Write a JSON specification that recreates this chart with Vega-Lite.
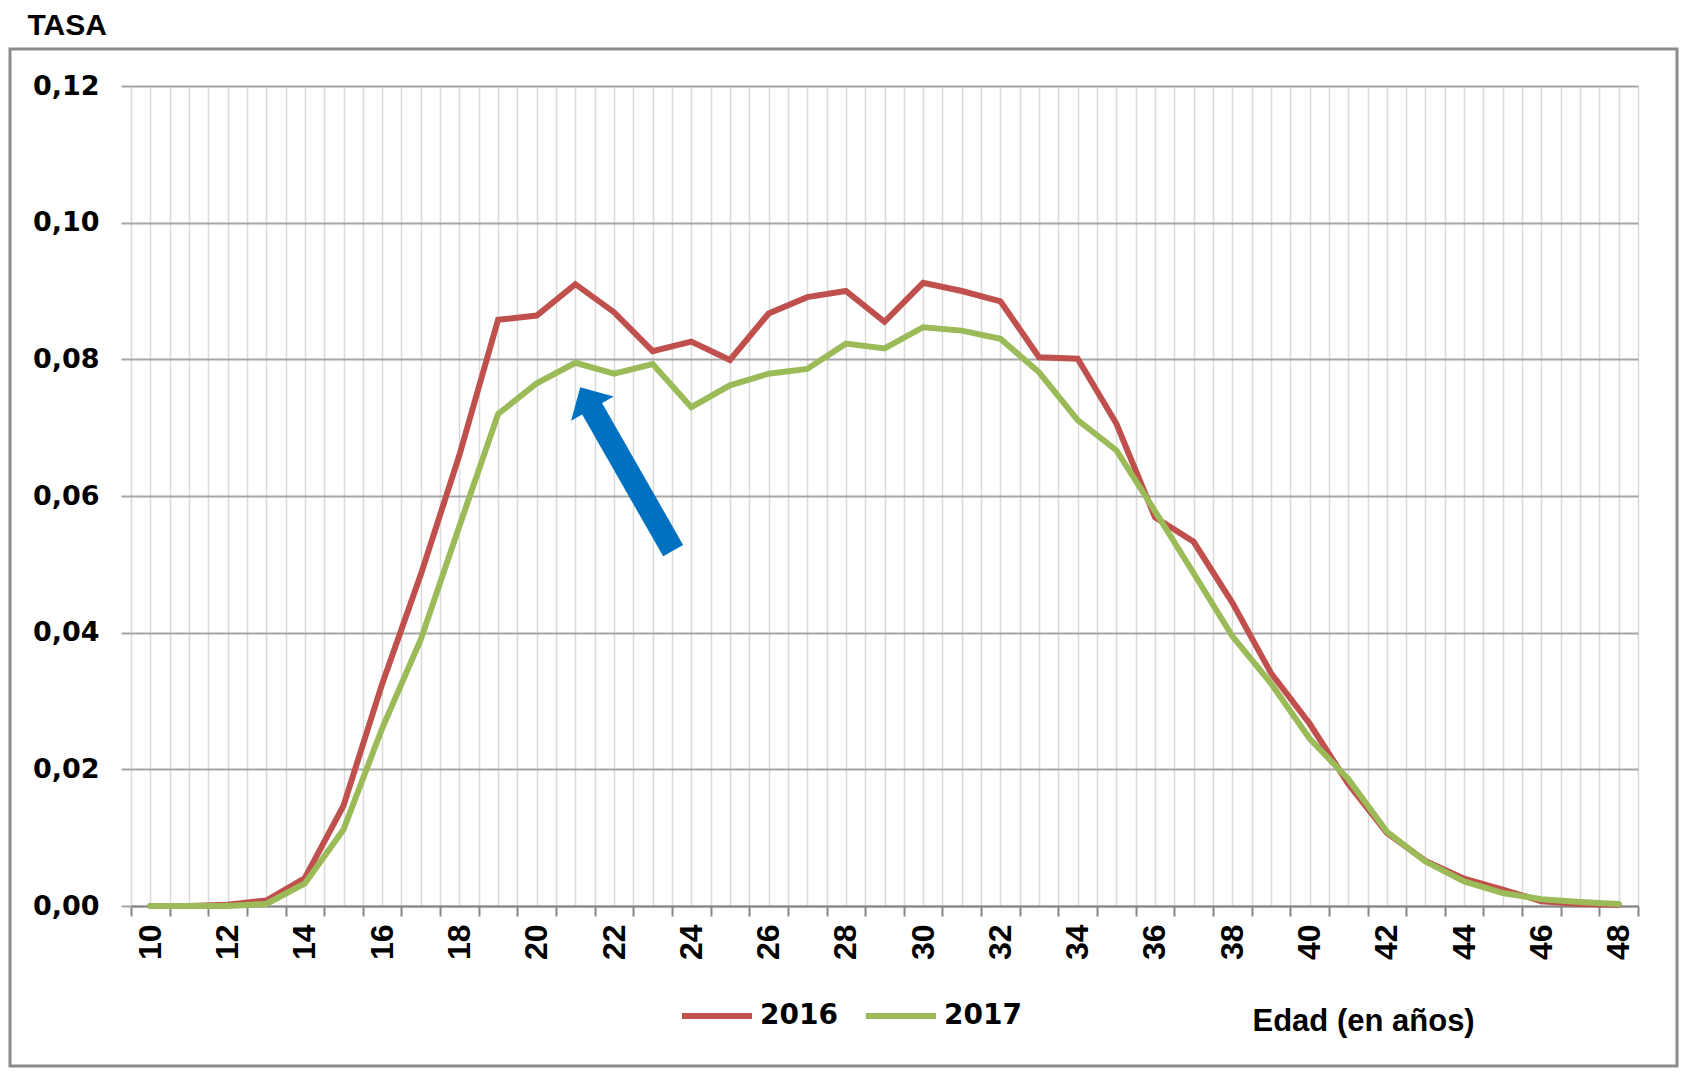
{
  "$schema": "https://vega.github.io/schema/vega-lite/v6.json",
  "autosize": "none",
  "width": 1667,
  "height": 1017,
  "padding": {"left": 10, "top": 49, "right": 4, "bottom": 8},
  "background": "#ffffff",
  "config": {
    "view": {"stroke": "#8c8c8c", "strokeWidth": 3, "fill": "#ffffff"}
  },
  "datasets": {
    "tasa": [
      {"edad": 10, "anio": "2016", "tasa": 0.0},
      {"edad": 11, "anio": "2016", "tasa": 0.0},
      {"edad": 12, "anio": "2016", "tasa": 0.0002},
      {"edad": 13, "anio": "2016", "tasa": 0.0008},
      {"edad": 14, "anio": "2016", "tasa": 0.0041},
      {"edad": 15, "anio": "2016", "tasa": 0.0147},
      {"edad": 16, "anio": "2016", "tasa": 0.0325},
      {"edad": 17, "anio": "2016", "tasa": 0.0485},
      {"edad": 18, "anio": "2016", "tasa": 0.0660},
      {"edad": 19, "anio": "2016", "tasa": 0.0858},
      {"edad": 20, "anio": "2016", "tasa": 0.0864},
      {"edad": 21, "anio": "2016", "tasa": 0.0910},
      {"edad": 22, "anio": "2016", "tasa": 0.0869},
      {"edad": 23, "anio": "2016", "tasa": 0.0812},
      {"edad": 24, "anio": "2016", "tasa": 0.0826},
      {"edad": 25, "anio": "2016", "tasa": 0.0799},
      {"edad": 26, "anio": "2016", "tasa": 0.0867},
      {"edad": 27, "anio": "2016", "tasa": 0.0891},
      {"edad": 28, "anio": "2016", "tasa": 0.0900},
      {"edad": 29, "anio": "2016", "tasa": 0.0855},
      {"edad": 30, "anio": "2016", "tasa": 0.0912},
      {"edad": 31, "anio": "2016", "tasa": 0.0900},
      {"edad": 32, "anio": "2016", "tasa": 0.0885},
      {"edad": 33, "anio": "2016", "tasa": 0.0803},
      {"edad": 34, "anio": "2016", "tasa": 0.0801},
      {"edad": 35, "anio": "2016", "tasa": 0.0706},
      {"edad": 36, "anio": "2016", "tasa": 0.0569},
      {"edad": 37, "anio": "2016", "tasa": 0.0533},
      {"edad": 38, "anio": "2016", "tasa": 0.0444},
      {"edad": 39, "anio": "2016", "tasa": 0.0341},
      {"edad": 40, "anio": "2016", "tasa": 0.0267},
      {"edad": 41, "anio": "2016", "tasa": 0.0179},
      {"edad": 42, "anio": "2016", "tasa": 0.0107},
      {"edad": 43, "anio": "2016", "tasa": 0.0066},
      {"edad": 44, "anio": "2016", "tasa": 0.0040},
      {"edad": 45, "anio": "2016", "tasa": 0.0024},
      {"edad": 46, "anio": "2016", "tasa": 0.0007},
      {"edad": 47, "anio": "2016", "tasa": 0.0003},
      {"edad": 48, "anio": "2016", "tasa": 0.0002},
      {"edad": 10, "anio": "2017", "tasa": 0.0},
      {"edad": 11, "anio": "2017", "tasa": 0.0},
      {"edad": 12, "anio": "2017", "tasa": 0.0},
      {"edad": 13, "anio": "2017", "tasa": 0.0003},
      {"edad": 14, "anio": "2017", "tasa": 0.0033},
      {"edad": 15, "anio": "2017", "tasa": 0.0112},
      {"edad": 16, "anio": "2017", "tasa": 0.0260},
      {"edad": 17, "anio": "2017", "tasa": 0.0390},
      {"edad": 18, "anio": "2017", "tasa": 0.0556},
      {"edad": 19, "anio": "2017", "tasa": 0.0720},
      {"edad": 20, "anio": "2017", "tasa": 0.0765},
      {"edad": 21, "anio": "2017", "tasa": 0.0795},
      {"edad": 22, "anio": "2017", "tasa": 0.0779},
      {"edad": 23, "anio": "2017", "tasa": 0.0793},
      {"edad": 24, "anio": "2017", "tasa": 0.0730},
      {"edad": 25, "anio": "2017", "tasa": 0.0762},
      {"edad": 26, "anio": "2017", "tasa": 0.0779},
      {"edad": 27, "anio": "2017", "tasa": 0.0786},
      {"edad": 28, "anio": "2017", "tasa": 0.0823},
      {"edad": 29, "anio": "2017", "tasa": 0.0816},
      {"edad": 30, "anio": "2017", "tasa": 0.0847},
      {"edad": 31, "anio": "2017", "tasa": 0.0842},
      {"edad": 32, "anio": "2017", "tasa": 0.0830},
      {"edad": 33, "anio": "2017", "tasa": 0.0781},
      {"edad": 34, "anio": "2017", "tasa": 0.0711},
      {"edad": 35, "anio": "2017", "tasa": 0.0667},
      {"edad": 36, "anio": "2017", "tasa": 0.0578},
      {"edad": 37, "anio": "2017", "tasa": 0.0487},
      {"edad": 38, "anio": "2017", "tasa": 0.0395},
      {"edad": 39, "anio": "2017", "tasa": 0.0326},
      {"edad": 40, "anio": "2017", "tasa": 0.0245},
      {"edad": 41, "anio": "2017", "tasa": 0.0186},
      {"edad": 42, "anio": "2017", "tasa": 0.0109},
      {"edad": 43, "anio": "2017", "tasa": 0.0065},
      {"edad": 44, "anio": "2017", "tasa": 0.0036},
      {"edad": 45, "anio": "2017", "tasa": 0.0019},
      {"edad": 46, "anio": "2017", "tasa": 0.0010},
      {"edad": 47, "anio": "2017", "tasa": 0.0006},
      {"edad": 48, "anio": "2017", "tasa": 0.0003}
    ],
    "flecha": [
      {"x_cola": 23.53, "y_cola": 0.0520, "x_fin": 21.38, "y_fin": 0.0733, "x_cabeza": 21.44, "y_cabeza": 0.0728}
    ]
  },
  "resolve": {"axis": {"x": "independent"}},
  "layer": [
    {
      "data": {"name": "flecha"},
      "mark": {"type": "rule", "color": "#0070C0", "strokeWidth": 23, "strokeCap": "butt", "opacity": 0},
      "encoding": {
        "x": {
          "field": "x_cola",
          "type": "quantitative",
          "scale": {"domain": [9.5, 48.5], "range": [121, 1628], "nice": false, "zero": false},
          "axis": {
            "orient": "top",
            "values": [9.5, 10, 10.5, 11, 11.5, 12, 12.5, 13, 13.5, 14, 14.5, 15, 15.5, 16, 16.5, 17, 17.5, 18, 18.5, 19, 19.5, 20, 20.5, 21, 21.5, 22, 22.5, 23, 23.5, 24, 24.5, 25, 25.5, 26, 26.5, 27, 27.5, 28, 28.5, 29, 29.5, 30, 30.5, 31, 31.5, 32, 32.5, 33, 33.5, 34, 34.5, 35, 35.5, 36, 36.5, 37, 37.5, 38, 38.5, 39, 39.5, 40, 40.5, 41, 41.5, 42, 42.5, 43, 43.5, 44, 44.5, 45, 45.5, 46, 46.5, 47, 47.5, 48, 48.5],
            "domain": false,
            "ticks": false,
            "labels": false,
            "grid": true,
            "gridColor": "#d9d9d9",
            "gridWidth": 1.5,
            "title": null
          }
        },
        "y": {
          "field": "y_cola",
          "type": "quantitative",
          "title": "TASA",
          "scale": {"domain": [0, 0.12], "range": [857, 37], "nice": false, "zero": false},
          "axis": {
            "orient": "left",
            "offset": -121,
            "values": [0, 0.02, 0.04, 0.06, 0.08, 0.1, 0.12],
            "domain": false,
            "grid": true,
            "gridColor": "#a6a6a6",
            "gridWidth": 2,
            "ticks": true,
            "tickColor": "#a6a6a6",
            "tickWidth": 2,
            "tickSize": 10,
            "labelExpr": "replace(format(datum.value, '.2f'), '.', ',')",
            "labelFont": "DejaVu Sans",
            "labelFontWeight": "bold",
            "labelFontSize": 27,
            "labelColor": "#000000",
            "labelPadding": 22,
            "title": "TASA",
            "titleFont": "Liberation Sans",
            "titleFontWeight": "bold",
            "titleFontSize": 30,
            "titleColor": "#000000",
            "titleAngle": 0,
            "titleX": -104,
            "titleY": -15,
            "titleAlign": "left",
            "titleBaseline": "alphabetic"
          }
        },
        "x2": {"field": "x_fin"},
        "y2": {"field": "y_fin"}
      }
    },
    {
      "data": {"name": "tasa"},
      "mark": {"type": "line", "strokeWidth": 6, "strokeJoin": "miter", "strokeCap": "round"},
      "encoding": {
        "x": {
          "field": "edad",
          "type": "quantitative",
          "axis": {
            "orient": "bottom",
            "offset": -160,
            "values": [9.5, 10.5, 11.5, 12.5, 13.5, 14.5, 15.5, 16.5, 17.5, 18.5, 19.5, 20.5, 21.5, 22.5, 23.5, 24.5, 25.5, 26.5, 27.5, 28.5, 29.5, 30.5, 31.5, 32.5, 33.5, 34.5, 35.5, 36.5, 37.5, 38.5, 39.5, 40.5, 41.5, 42.5, 43.5, 44.5, 45.5, 46.5, 47.5, 48.5],
            "domain": true,
            "domainColor": "#868686",
            "domainWidth": 2,
            "grid": false,
            "ticks": true,
            "tickColor": "#868686",
            "tickWidth": 2,
            "tickSize": 10,
            "labels": false,
            "title": "Edad (en años)",
            "titleFont": "Liberation Sans",
            "titleFontWeight": "bold",
            "titleFontSize": 31,
            "titleColor": "#000000",
            "titleAngle": 0,
            "titleX": 1242,
            "titleY": 124,
            "titleAlign": "left",
            "titleBaseline": "alphabetic"
          }
        },
        "y": {"field": "tasa", "type": "quantitative", "title": "TASA"},
        "color": {
          "field": "anio",
          "type": "nominal",
          "scale": {"domain": ["2016", "2017"], "range": ["#C0504D", "#9BBB59"]},
          "legend": {
            "orient": "none",
            "legendX": 669,
            "legendY": 929,
            "direction": "horizontal",
            "title": null,
            "padding": 0,
            "symbolType": "stroke",
            "symbolSize": 4900,
            "symbolStrokeWidth": 6,
            "labelFont": "DejaVu Sans",
            "labelFontWeight": "bold",
            "labelFontSize": 28,
            "labelColor": "#000000",
            "labelOffset": 5,
            "columnPadding": 16
          }
        }
      }
    },
    {
      "data": {"name": "flecha"},
      "mark": {"type": "rule", "color": "#0070C0", "strokeWidth": 23, "strokeCap": "butt"},
      "encoding": {
        "x": {
          "field": "x_cola",
          "type": "quantitative",
          "axis": {
            "orient": "bottom",
            "offset": -160,
            "values": [10, 12, 14, 16, 18, 20, 22, 24, 26, 28, 30, 32, 34, 36, 38, 40, 42, 44, 46, 48],
            "format": "d",
            "domain": false,
            "grid": false,
            "ticks": false,
            "labels": true,
            "labelAngle": -90,
            "labelAlign": "right",
            "labelBaseline": "middle",
            "labelFont": "Liberation Sans",
            "labelFontWeight": "bold",
            "labelFontSize": 32,
            "labelColor": "#000000",
            "labelPadding": 18,
            "labelOverlap": false,
            "labelBound": false,
            "labelFlush": false,
            "title": null
          }
        },
        "y": {"field": "y_cola", "type": "quantitative", "title": "TASA"},
        "x2": {"field": "x_fin"},
        "y2": {"field": "y_fin"}
      }
    },
    {
      "data": {"name": "flecha"},
      "mark": {"type": "point", "shape": "M-1,0L0,-1L1,0Z", "filled": true, "color": "#0070C0", "opacity": 1, "size": 2401, "angle": -29.7},
      "encoding": {
        "x": {"field": "x_cabeza", "type": "quantitative", "axis": {"orient": "bottom", "offset": -160, "domain": false, "grid": false, "ticks": false, "labels": false, "title": null, "values": []}},
        "y": {"field": "y_cabeza", "type": "quantitative", "title": "TASA"}
      }
    }
  ]
}
